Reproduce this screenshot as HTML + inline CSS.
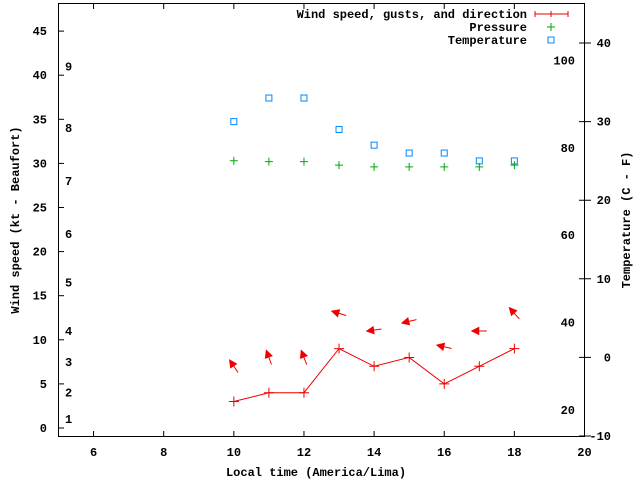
<!DOCTYPE html>
<html><head><meta charset="utf-8"><style>
body{margin:0;background:#fff}
svg text{font-family:"Liberation Mono",monospace;font-size:12px;font-weight:bold;fill:#000}
</style></head><body>
<svg id="chart" width="640" height="480" xmlns="http://www.w3.org/2000/svg">
<rect x="58.5" y="3.5" width="526" height="433" fill="none" stroke="#000"/>
<g id="axes"></g><g id="marks"></g>
<text x="316" y="476" text-anchor="middle">Local time (America/Lima)</text>
<text transform="translate(19,220) rotate(-90)" text-anchor="middle">Wind speed (kt - Beaufort)</text>
<text transform="translate(630,220) rotate(-90)" text-anchor="middle">Temperature (C - F)</text>
<g>
<text x="527" y="18" text-anchor="end">Wind speed, gusts, and direction</text>
<path d="M535 14H568M535 11v6M551 11v6M568 11v6" stroke="#e00"/>
<text x="527" y="31" text-anchor="end">Pressure</text>
<path d="M547 27h8M551 23v8" stroke="#0a0"/>
<text x="527" y="44" text-anchor="end">Temperature</text>
<rect x="548" y="37" width="6" height="6" fill="none" stroke="#08f"/>
</g>
</svg>
<script>
const hours=[10,11,12,13,14,15,16,17,18];
const windSpeed=[3,4,4,9,7,8,5,7,9];
const gusts=[7,8,8,13,11.1,12.1,9.2,11,13];
const windAngle=[124,110,111,163,188,193,167,180,132];
const pressure=[30.3,30.2,30.2,29.8,29.6,29.6,29.6,29.6,29.8];
const temperature=[30,33,33,29,27,26,26,25,25];
const xTicks=[6,8,10,12,14,16,18,20];
const yTicks=[0,5,10,15,20,25,30,35,40,45];
const y2Ticks=[-10,0,10,20,30,40];
const beaufort=[1,2,3,4,5,6,7,8,9];
const beaufortKt=[1,4,7.5,11,16.5,22,28,34,41];
const fTicks=[20,40,60,80,100];
const NS='http://www.w3.org/2000/svg';
const X=v=>58.5+(v-5)*526/15;
const Y=v=>428-v*8.82;
const Y2=v=>436-(v+10)*7.86;
const ax=document.getElementById('axes'),mk=document.getElementById('marks');
function el(p,t,a){const e=document.createElementNS(NS,t);for(const k in a)e.setAttribute(k,a[k]);p.appendChild(e);return e;}
xTicks.forEach(t=>{const x=X(t);
const l=el(ax,'path',{d:`M${x} 437v-6M${x} 3v6`,stroke:'#000'});


const s=el(ax,'text',{x:x,y:456,'text-anchor':'middle'});s.textContent=t;

});
yTicks.forEach(t=>{const y=Y(t);
const l=el(ax,'path',{d:`M58 ${y}h6`,stroke:'#000'});


const s=el(ax,'text',{x:47,y:y+4,'text-anchor':'end'});s.textContent=t;

});
y2Ticks.forEach(t=>{const y=Y2(t);
const l=el(ax,'path',{d:`M585 ${y}h-6M585 ${y}h6`,stroke:'#000'});


const s=el(ax,'text',{x:611,y:y+4,'text-anchor':'end'});s.textContent=t;

});
beaufort.forEach((b,i)=>{const s=el(ax,'text',{x:65,y:Y(beaufortKt[i])+4});s.textContent=b;

});
fTicks.forEach(f=>{const s=el(ax,'text',{x:575,y:Y2((f-32)*5/9)+4,'text-anchor':'end'});s.textContent=f;

});
const line=el(mk,'polyline',{points:hours.map((h,i)=>X(h)+','+Y(windSpeed[i])).join(' '),fill:'none',stroke:'#e00'});


hours.forEach((h,i)=>{
const x=X(h),y=Y(windSpeed[i]);
const p=el(mk,'path',{d:`M${x-5} ${y}h10M${x} ${y-5}v10`,stroke:'#e00'});


const cx=X(h),cy=Y(gusts[i]),a=windAngle[i]*Math.PI/180,L=15;
const dx=Math.cos(a),dy=-Math.sin(a);
const hx=cx+dx*L/2,hy=cy+dy*L/2,tx=cx-dx*L/2,ty=cy-dy*L/2;
const px=-dy,py=dx;
const ar=el(mk,'path',{d:`M${tx} ${ty}L${hx} ${hy}M${hx} ${hy}L${hx-dx*7+px*3.5} ${hy-dy*7+py*3.5}L${hx-dx*7-px*3.5} ${hy-dy*7-py*3.5}Z`,stroke:'#e00',fill:'#e00'});


const gy=Y(pressure[i]);
const g=el(mk,'path',{d:`M${x-4} ${gy}h8M${x} ${gy-4}v8`,stroke:'#0a0'});


const ty2=Y2(temperature[i]);
const r=el(mk,'rect',{x:x-3,y:ty2-3,width:6,height:6,fill:'none',stroke:'#08f'});


});
</script>
</body></html>
